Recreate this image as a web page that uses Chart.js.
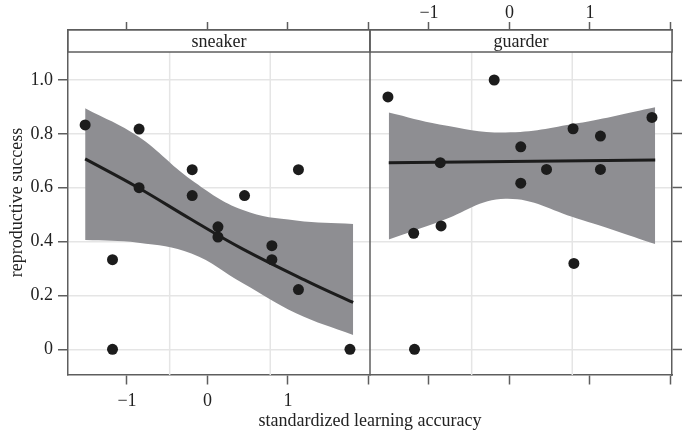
<!DOCTYPE html>
<html>
<head>
<meta charset="utf-8">
<script src="https://cdn.jsdelivr.net/npm/chart.js@4.4.1/dist/chart.umd.min.js"></script>
<style>
  html, body { margin: 0; padding: 0; background: #fff; }
  #wrap { width: 683px; height: 430px; position: relative; }
</style>
</head>
<body>
<div id="wrap"><canvas id="chart"></canvas></div>
<script>
// panels
const panelNames = ['sneaker', 'guarder'];

// observed points, sneaker panel
const sneakerX = [-1.52, -1.18, -1.18, -0.85, -0.85, -0.19, -0.19, 0.13, 0.13, 0.46, 0.80, 0.80, 1.13, 1.13, 1.77];
const sneakerY = [0.833, 0.333, 0, 0.818, 0.600, 0.667, 0.571, 0.455, 0.417, 0.571, 0.385, 0.333, 0.667, 0.222, 0];

// observed points, guarder panel
const guarderX = [-1.51, -1.19, -1.18, -0.86, -0.85, -0.19, 0.14, 0.14, 0.46, 0.79, 0.80, 1.13, 1.13, 1.77];
const guarderY = [0.937, 0.431, 0, 0.693, 0.458, 1.0, 0.752, 0.617, 0.668, 0.819, 0.319, 0.792, 0.668, 0.861];

// fitted curves
const sneakerFitX = [-1.52, -0.86, -0.2, 0.44, 1.28, 1.81];
const sneakerFitY = [0.707, 0.600, 0.482, 0.372, 0.247, 0.174];
const guarderFitX = [-1.5, 1.81];
const guarderFitY = [0.693, 0.703];

// confidence bands
const sneakerBandX = [-1.52, -0.86, -0.2, 0.44, 1.1, 1.81];
const sneakerUpper = [0.895, 0.790, 0.629, 0.517, 0.478, 0.465];
const sneakerLower = [0.406, 0.396, 0.356, 0.245, 0.134, 0.053];
const guarderBandX = [-1.5, -0.87, -0.05, 0.84, 1.81];
const guarderUpper = [0.879, 0.835, 0.805, 0.839, 0.899];
const guarderLower = [0.408, 0.474, 0.559, 0.486, 0.391];

// ticks
const xTicks = [-1, 0, 1, 2];
const xTickLabels = ['\u22121', '0', '1', ''];
const yTicks = [0, 0.2, 0.4, 0.6, 0.8, 1.0];
const yTickLabels = ['0', '0.2', '0.4', '0.6', '0.8', '1.0'];
const gridX = [-0.47, 0.78];

const X_MIN = -1.733, X_MAX = 2.019;
const Y_MIN = -0.0954, Y_MAX = 1.1857;

const FONT = "'Liberation Serif', 'Times New Roman', serif";
const AXIS = '#5e5e5e';
const GRID = '#e5e5e5';
const BAND = '#8e8e92';
const INK = '#1c1c1c';
const TEXT = '#222';
const STRIP_H = 22;

const pts = (xs, ys) => xs.map((x, i) => ({ x: x, y: ys[i] }));
const setTicks = vals => s => { s.ticks = vals.map(v => ({ value: v })); };

function xAxis(position, stack, labels, height, tickLength, pad) {
    return {
        type: 'linear', position: position, stack: stack,
        min: X_MIN, max: X_MAX,
        afterBuildTicks: setTicks(xTicks),
        afterFit: s => { s.height = height; },
        ticks: {
            callback: (v, i) => labels ? labels[i] : '',
            color: TEXT, font: { family: FONT, size: 18 },
            padding: pad, maxRotation: 0, autoSkip: false
        },
        grid: { drawOnChartArea: false, tickLength: tickLength, tickColor: AXIS, tickWidth: 1.5 },
        border: { color: AXIS, width: 1.5 }
    };
}

function band(xs, up, lo, axis) {
    return [
        { data: pts(xs, up), xAxisID: axis, yAxisID: 'y', showLine: true, fill: '+1',
          backgroundColor: BAND, borderWidth: 0, pointRadius: 0, tension: 0.4, order: 3 },
        { data: pts(xs, lo), xAxisID: axis, yAxisID: 'y', showLine: true, fill: false,
          borderWidth: 0, pointRadius: 0, tension: 0.4, order: 3 }
    ];
}

const panelDecor = {
    id: 'panelDecor',
    beforeDatasetsDraw(chart) {
        const { ctx, chartArea: a, scales } = chart;
        ctx.save();
        ctx.strokeStyle = GRID;
        ctx.lineWidth = 1.5;
        ['x1', 'x2'].forEach(id => {
            gridX.forEach(v => {
                const px = scales[id].getPixelForValue(v);
                ctx.beginPath();
                ctx.moveTo(px, a.top);
                ctx.lineTo(px, a.bottom);
                ctx.stroke();
            });
        });
        ctx.restore();
    },
    afterDatasetsDraw(chart) {
        const { ctx, chartArea: a, scales } = chart;
        ctx.save();
        ctx.lineWidth = 1.5;
        ctx.strokeStyle = AXIS;
        ['x1', 'x2'].forEach((id, i) => {
            const s = scales[id];
            ctx.fillStyle = '#fff';
            ctx.fillRect(s.left, a.top, s.right - s.left, STRIP_H);
            ctx.strokeRect(s.left, a.top, s.right - s.left, STRIP_H);
            ctx.fillStyle = TEXT;
            ctx.font = '18px ' + FONT;
            ctx.textAlign = 'center';
            ctx.textBaseline = 'middle';
            ctx.fillText(panelNames[i], (s.left + s.right) / 2, a.top + STRIP_H / 2 + 1);
        });
        // divider between panels
        ctx.beginPath();
        ctx.moveTo(scales.x1.right, a.top);
        ctx.lineTo(scales.x1.right, a.bottom);
        ctx.stroke();
        ctx.restore();
    }
};

new Chart(document.getElementById('chart'), {
    type: 'scatter',
    data: {
        datasets: [
            ...band(sneakerBandX, sneakerUpper, sneakerLower, 'x1'),
            ...band(guarderBandX, guarderUpper, guarderLower, 'x2'),
            { data: pts(sneakerFitX, sneakerFitY), xAxisID: 'x1', yAxisID: 'y', showLine: true,
              borderColor: INK, borderWidth: 3, pointRadius: 0, tension: 0.4, order: 2 },
            { data: pts(guarderFitX, guarderFitY), xAxisID: 'x2', yAxisID: 'y', showLine: true,
              borderColor: INK, borderWidth: 3, pointRadius: 0, order: 2 },
            { data: pts(sneakerX, sneakerY), xAxisID: 'x1', yAxisID: 'y',
              backgroundColor: INK, borderWidth: 0, pointRadius: 5.5, order: 1 },
            { data: pts(guarderX, guarderY), xAxisID: 'x2', yAxisID: 'y',
              backgroundColor: INK, borderWidth: 0, pointRadius: 5.5, order: 1 }
        ]
    },
    options: {
        responsive: true,
        maintainAspectRatio: false,
        animation: false,
        layout: { padding: 0 },
        plugins: {
            legend: { display: false },
            tooltip: { enabled: false },
            title: {
                display: true, position: 'bottom', fullSize: false,
                text: 'standardized learning accuracy',
                color: TEXT, font: { family: FONT, size: 18, weight: 'normal', lineHeight: 1 },
                padding: { top: 0, bottom: 0 }
            }
        },
        scales: {
            y: {
                type: 'linear', position: 'left', min: Y_MIN, max: Y_MAX,
                afterBuildTicks: setTicks(yTicks),
                afterFit: s => { s.width = 68; },
                ticks: { callback: (v, i) => yTickLabels[i], color: TEXT, font: { family: FONT, size: 18 }, padding: 5 },
                grid: { color: GRID, lineWidth: 1.5, tickLength: 10, tickColor: AXIS, tickWidth: 1.5 },
                border: { color: AXIS, width: 1.5 },
                title: { display: true, text: 'reproductive success', color: TEXT,
                         font: { family: FONT, size: 18 }, padding: { top: 6, bottom: 0 } }
            },
            y2: {
                type: 'linear', position: 'right', min: Y_MIN, max: Y_MAX,
                afterBuildTicks: setTicks(yTicks),
                afterFit: s => { s.width = 11; },
                ticks: { callback: () => '', padding: 0 },
                grid: { drawOnChartArea: false, tickLength: 10, tickColor: AXIS, tickWidth: 1.5 },
                border: { color: AXIS, width: 1.5 }
            },
            x1: xAxis('bottom', 'bot', xTickLabels, 37, 9.5, 6),
            x2: xAxis('bottom', 'bot', null, 37, 9.5, 6),
            // top boxes get placed in reverse order, so the guarder one comes first
            xtGuarder: xAxis('top', 'top', xTickLabels, 30, 8, -2),
            xtSneaker: xAxis('top', 'top', null, 30, 8, -2)
        }
    },
    plugins: [panelDecor]
});
</script>
</body>
</html>
